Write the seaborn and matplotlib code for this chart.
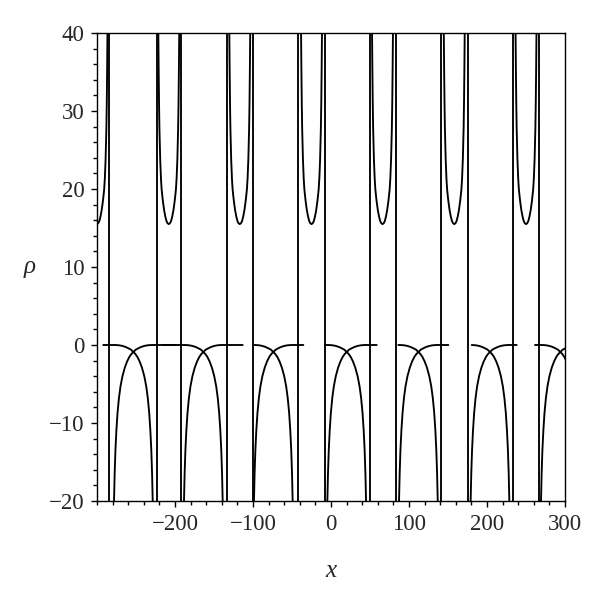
import numpy as np
import pandas as pd
import matplotlib
matplotlib.use("Agg")
import matplotlib.pyplot as plt
from matplotlib.ticker import MultipleLocator
import seaborn as sns

# upper U-shaped branches: centres and the shape of one half (offset from centre, rho)
u_centres = [-300, -208, -117, -25, 66, 158, 250]
u_dx = [0, 1.5, 3, 4.5, 6, 7.5, 8.5, 9.2, 10, 11, 12, 12.5, 13, 13.4, 14.2]
u_rho = [15.5, 15.6, 15.9, 16.5, 17.3, 18.4, 19.3, 20.0, 21.3, 23.8, 27.8, 31.0, 35.5, 40.0, 48.0]

# near-vertical jumps drawn at the poles
poles = [-284, -223.5, -192.3, -133.7, -100.4, -41.9, -7.7, 50, 83.3, 141, 175.2, 233.8, 266.7]

# lower branches: they cross near rho = -0.9
cross_x = [-253.4, -163.7, -74, 20.1, 112, 203.8, 294]
arm_dx = [-24.8, -24, -23, -21.8, -20.3, -18.5, -16.5, -14, -11, -8, -5, -2.5,
          0, 3, 6.4, 10, 14, 18, 23]
arm_rho = [-20, -16.5, -13.5, -11, -8.7, -6.8, -5.3, -4.0, -2.9, -2.1, -1.5, -1.15,
           -0.9, -0.6, -0.42, -0.25, -0.12, -0.04, 0]
# where the falling branch starts / the rising branch stops on rho = 0
fall_start = [-292, -215, -98.3, -7.7, 86.3, 180.4, 261.5]
rise_end = [-200, -113.2, -35.5, 58.6, 150.4, 238, 330]

rows = []
seg = 0
for c in u_centres:
    xs = [c - d for d in u_dx[::-1]] + [c + d for d in u_dx]
    ys = u_rho[::-1] + u_rho
    rows += [(x, y, seg) for x, y in zip(xs, ys)]
    seg += 1

for xc, a0, b1 in zip(cross_x, fall_start, rise_end):
    # rising branch
    xs = [xc + d for d in arm_dx] + [b1]
    ys = arm_rho + [0]
    rows += [(x, y, seg) for x, y in zip(xs, ys)]
    seg += 1
    # falling branch (mirror image)
    xs = [a0] + [xc - d for d in arm_dx[::-1]]
    ys = [0] + arm_rho[::-1]
    rows += [(x, y, seg) for x, y in zip(xs, ys)]
    seg += 1

df = pd.DataFrame(rows, columns=["x", "rho", "seg"])

sns.set_style("ticks")
plt.rcParams["font.family"] = ["Liberation Serif", "DejaVu Serif"]

fig = plt.figure(figsize=(6, 5.89), dpi=100)
ax = fig.add_axes([0.1617, 0.1494, 0.78, 0.7946])

sns.lineplot(data=df, x="x", y="rho", units="seg", estimator=None, sort=False,
             color="black", linewidth=1.35, ax=ax)
for p in poles:
    ax.axvline(p, color="black", linewidth=1.35)

ax.set_xlim(-300, 300)
ax.set_ylim(-20, 40)
ax.xaxis.set_major_locator(MultipleLocator(100))
ax.xaxis.set_minor_locator(MultipleLocator(20))
ax.yaxis.set_major_locator(MultipleLocator(10))
ax.yaxis.set_minor_locator(MultipleLocator(2))
ax.set_xticks([-200, -100, 0, 100, 200, 300])
ax.tick_params(which="major", length=4, width=1, labelsize=16.5, pad=5, color="black")
ax.tick_params(which="minor", length=3, width=1, color="black")
for s in ax.spines.values():
    s.set_visible(True)
    s.set_color("black")
    s.set_linewidth(1)

ax.set_xlabel("x", fontsize=18, fontstyle="italic", labelpad=18)
ax.set_ylabel("ρ", fontsize=18, fontstyle="italic", rotation=0, labelpad=14, va="center")

fig.savefig("out.png", dpi=100)
